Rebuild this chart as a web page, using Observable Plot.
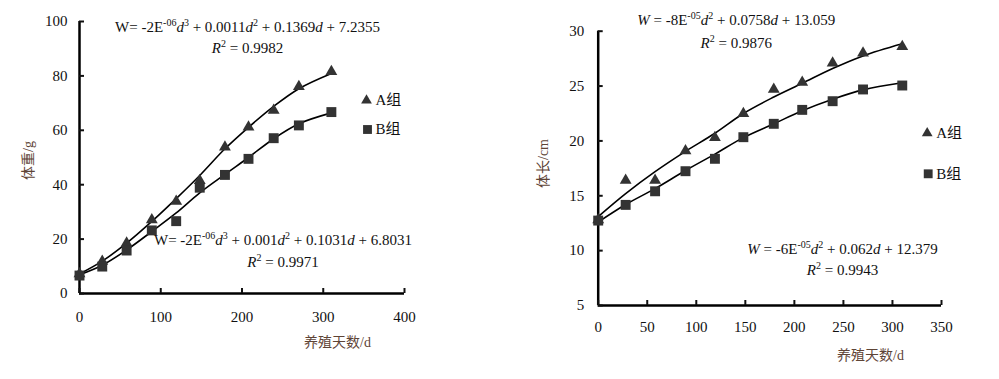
<!DOCTYPE html>
<html>
<head>
<meta charset="utf-8">
<script src="https://cdn.jsdelivr.net/npm/d3@7"></script>
<script src="https://cdn.jsdelivr.net/npm/@observablehq/plot@0.6"></script>
<style>
  html, body { margin: 0; padding: 0; background: #fff; }
  #wrap { position: relative; width: 999px; height: 379px; overflow: hidden; }
  #wrap svg { position: absolute; top: 0; }
</style>
</head>
<body>
<div id="wrap"></div>
<script>
// ---- data ----
const days = [0, 28, 58, 89, 119, 148, 179, 208, 239, 270, 310];

// body weight (g)
const weightA    = [7.2, 11.8, 18.5, 27.1, 33.9, 41.5, 53.8, 61.2, 67.3, 76.1, 81.6];
const weightB    = [6.6, 9.9, 15.8, 23.2, 26.6, 38.9, 43.6, 49.5, 57.1, 61.8, 66.7];
const weightFitA = [7.2, 11.9, 18.5, 26.5, 34.9, 43.4, 53.2, 61.1, 68.8, 75.3, 80.9];
const weightFitB = [6.9, 10.4, 16.0, 22.8, 29.6, 37.0, 43.8, 50.0, 56.9, 62.4, 66.4];

// body length (cm)
const lengthA    = [12.8, 16.4, 16.4, 19.1, 20.3, 22.5, 24.7, 25.35, 27.1, 28.0, 28.6];
const lengthB    = [12.74, 14.17, 15.41, 17.24, 18.37, 20.34, 21.56, 22.83, 23.62, 24.69, 25.05];
const lengthFitA = [13.1, 15.2, 17.2, 19.05, 20.7, 22.5, 24.0, 25.25, 26.6, 27.75, 28.85];
const lengthFitB = [12.6, 14.2, 15.65, 17.3, 18.8, 20.3, 21.56, 22.75, 23.8, 24.65, 25.3];

const weightXTicks = [0, 100, 200, 300, 400];
const weightYTicks = [0, 20, 40, 60, 80, 100];
const lengthXTicks = [0, 50, 100, 150, 200, 250, 300, 350];
const lengthYTicks = [5, 10, 15, 20, 25, 30];

const groupNames = ["A组", "B组"];
const weightEq = ["W= -2E^{-06}_{d}^{3} + 0.0011_{d}^{2} + 0.1369_{d} + 7.2355", "_{R}^{2} = 0.9982",
                  "W= -2E^{-06}_{d}^{3} + 0.001_{d}^{2} + 0.1031_{d} + 6.8031", "_{R}^{2} = 0.9971"];
const lengthEq = ["_{W} = -8E^{-05}_{d}^{2} + 0.0758_{d} + 13.059", "_{R}^{2} = 0.9876",
                  "_{W} = -6E^{-05}_{d}^{2} + 0.062_{d} + 12.379", "_{R}^{2} = 0.9943"];
const xTitle = "养殖天数/d";
const weightTitle = "体重/g";
const lengthTitle = "体长/cm";

// ---- helpers ----
const rows = (vals) => days.map((d, i) => ({d, v: vals[i]}));
const FONT = "Liberation Serif, Times New Roman, Noto Sans CJK SC, serif";
const MARK = "#333";
const LABEL = "#5e4436";

function annot(str, dx, dy, extra = {}) {
  return Plot.text([str], {frameAnchor: "top-left", dx, dy, fontSize: 15, fill: "#111",
    fontFamily: FONT, textAnchor: "middle", lineAnchor: "middle", ...extra});
}

function chart(cfg) {
  const m = [
    Plot.ruleY([cfg.yDomain[0]], {stroke: "#000", strokeWidth: 2.5}),
    Plot.ruleX([cfg.xDomain[0]], {stroke: "#000", strokeWidth: 2.5}),
    Plot.axisX({ticks: cfg.xTicks, tickSize: -5, tickFormat: () => "", strokeWidth: 2, label: null}),
    Plot.axisY({ticks: cfg.yTicks, tickSize: -5, tickFormat: () => "", strokeWidth: 2, label: null}),
    Plot.axisX({ticks: cfg.xTicks, tickSize: 0, tickPadding: cfg.xPad, label: null, fontSize: 15, fontFamily: FONT, fill: "#111"}),
    Plot.axisY({ticks: cfg.yTicks, tickSize: 0, tickPadding: cfg.yPad, label: null, fontSize: 15, fontFamily: FONT, fill: "#111"}),
    Plot.line(rows(cfg.fitA), {x: "d", y: "v", stroke: "#000", strokeWidth: 1.6, curve: "catmull-rom"}),
    Plot.line(rows(cfg.fitB), {x: "d", y: "v", stroke: "#000", strokeWidth: 1.6, curve: "catmull-rom"}),
    Plot.dot(rows(cfg.A), {x: "d", y: "v", symbol: "triangle", r: 4.4, fill: MARK, stroke: "none"}),
    Plot.dot(rows(cfg.B), {x: "d", y: "v", symbol: "square", r: 5.6, fill: MARK, stroke: "none"}),
    // legend
    Plot.dot([0], {frameAnchor: "top-left", dx: cfg.leg[0], dy: cfg.leg[1], symbol: "triangle", r: 4.0, fill: MARK}),
    Plot.dot([0], {frameAnchor: "top-left", dx: cfg.leg[0] + 1, dy: cfg.leg[2], symbol: "square", r: 5.0, fill: MARK}),
    annot(groupNames[0], cfg.leg[0] + 9, cfg.leg[1], {textAnchor: "start"}),
    annot(groupNames[1], cfg.leg[0] + 9, cfg.leg[2], {textAnchor: "start"}),
    // equations
    annot(cfg.eq[0], cfg.eqPos[0], cfg.eqPos[1]),
    annot(cfg.eq[1], cfg.eqPos[0], cfg.eqPos[2]),
    annot(cfg.eq[2], cfg.eqPos[3], cfg.eqPos[4]),
    annot(cfg.eq[3], cfg.eqPos[3], cfg.eqPos[5]),
    // axis titles
    annot(xTitle, cfg.xt[0], cfg.xt[1], {fill: LABEL, fontSize: 14}),
    annot(cfg.yTitle, cfg.yt[0], cfg.yt[1], {fill: LABEL, fontSize: 14, rotate: -90})
  ];
  const svg = Plot.plot({
    width: cfg.width, height: 379,
    marginLeft: cfg.ml, marginRight: cfg.mr, marginTop: cfg.mt, marginBottom: cfg.mb,
    x: {domain: cfg.xDomain},
    y: {domain: cfg.yDomain},
    style: {fontFamily: FONT, fontSize: "15px", color: "#111", background: "transparent", overflow: "visible"},
    marks: m
  });
  svg.style.left = cfg.left + "px";
  richText(svg);
  return svg;
}

// turn ^{..} into superscripts and _{..} into italics
function richText(svg) {
  d3.select(svg).selectAll("text").each(function() {
    const t = this.textContent;
    if (!/[\^_]\{/.test(t)) return;
    const el = d3.select(this);
    el.text(null);
    const parts = t.split(/(\^\{[^}]*\}|_\{[^}]*\})/).filter(s => s.length);
    let raised = false;
    for (const p of parts) {
      const ts = el.append("tspan");
      if (p.startsWith("^{")) {
        ts.text(p.slice(2, -1)).attr("font-size", "10px").attr("dy", "-6");
        raised = true;
      } else {
        if (raised) { ts.attr("dy", "6"); raised = false; }
        if (p.startsWith("_{")) ts.text(p.slice(2, -1)).attr("font-style", "italic");
        else ts.text(p);
      }
    }
  });
}

const wrap = document.getElementById("wrap");
wrap.appendChild(chart({
  left: 0, width: 500, ml: 79, mr: 96, mt: 21, mb: 86,
  xDomain: [0, 400], yDomain: [0, 100], xTicks: weightXTicks, yTicks: weightYTicks,
  xPad: 18, yPad: 12,
  A: weightA, B: weightB, fitA: weightFitA, fitB: weightFitB,
  leg: [287, 79, 108],
  eq: weightEq, eqPos: [168, 6, 27, 203.5, 219, 241],
  xt: [258, 321], yTitle: weightTitle, yt: [-51, 139]
}));
wrap.appendChild(chart({
  left: 500, width: 499, ml: 97.7, mr: 58, mt: 30.7, mb: 74,
  xDomain: [0, 350], yDomain: [5, 30], xTicks: lengthXTicks, yTicks: lengthYTicks,
  xPad: 16, yPad: 14,
  A: lengthA, B: lengthB, fitA: lengthFitA, fitB: lengthFitB,
  leg: [329, 102, 142.6],
  eq: lengthEq, eqPos: [138, -10.7, 12.3, 244.3, 217.6, 239.3],
  xt: [272.3, 324.3], yTitle: lengthTitle, yt: [-54.7, 132.3]
}));
</script>
</body>
</html>
